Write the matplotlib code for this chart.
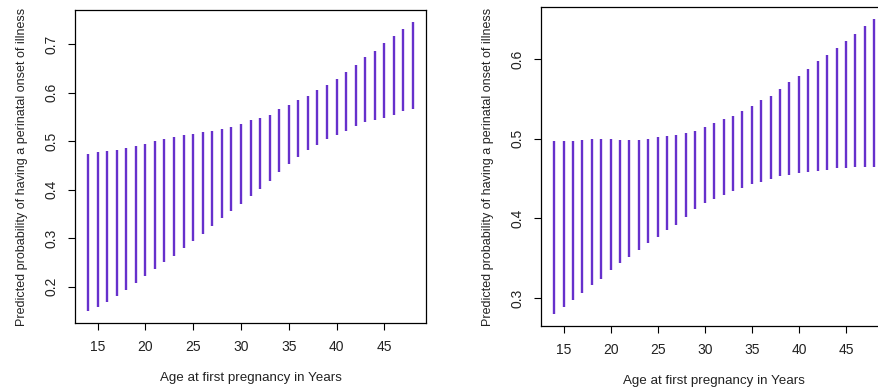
import numpy as np
import matplotlib
matplotlib.use("Agg")
import matplotlib.pyplot as plt

plt.rcParams['font.family'] = ['Liberation Sans', 'DejaVu Sans']

age = np.arange(14, 49)

left_lower = [0.149, 0.159, 0.169, 0.181, 0.193, 0.207, 0.222, 0.237, 0.251, 0.264,
              0.279, 0.295, 0.308, 0.326, 0.341, 0.356, 0.371, 0.387, 0.402, 0.419,
              0.436, 0.453, 0.468, 0.483, 0.493, 0.505, 0.514, 0.522, 0.531, 0.539,
              0.543, 0.549, 0.554, 0.562, 0.566]
left_upper = [0.473, 0.477, 0.480, 0.482, 0.486, 0.490, 0.494, 0.500, 0.504, 0.508,
              0.512, 0.515, 0.520, 0.522, 0.525, 0.530, 0.535, 0.543, 0.549, 0.555,
              0.566, 0.575, 0.585, 0.594, 0.605, 0.616, 0.629, 0.642, 0.657, 0.673,
              0.687, 0.703, 0.718, 0.732, 0.747]

right_lower = [0.280, 0.289, 0.298, 0.306, 0.316, 0.324, 0.335, 0.344, 0.352, 0.360,
               0.369, 0.377, 0.385, 0.392, 0.402, 0.412, 0.419, 0.425, 0.430, 0.434,
               0.438, 0.443, 0.446, 0.449, 0.453, 0.454, 0.457, 0.458, 0.459, 0.461,
               0.463, 0.463, 0.464, 0.464, 0.465]
right_upper = [0.497, 0.4975, 0.497, 0.499, 0.4996, 0.4996, 0.4996, 0.499, 0.498, 0.498,
               0.500, 0.502, 0.504, 0.505, 0.507, 0.510, 0.515, 0.520, 0.525, 0.529,
               0.535, 0.541, 0.549, 0.554, 0.562, 0.571, 0.579, 0.587, 0.597, 0.605,
               0.614, 0.623, 0.631, 0.641, 0.650]

xticks = [15, 20, 25, 30, 35, 40, 45]
left_yticks = [0.2, 0.3, 0.4, 0.5, 0.6, 0.7]
right_yticks = [0.3, 0.4, 0.5, 0.6]

W, H = 879, 387
fig = plt.figure(figsize=(W / 100, H / 100), dpi=100)

ax1 = fig.add_axes([75 / W, (H - 323) / H, (426 - 75) / W, (323 - 10) / H])
ax2 = fig.add_axes([541.3 / W, (H - 326) / H, (887 - 541.3) / W, (326 - 7.3) / H])


def r_extend(lo, hi):
    d = (hi - lo) * 0.04
    return lo - d, hi + d


for ax, lo, hi, yt in [(ax1, left_lower, left_upper, left_yticks),
                       (ax2, right_lower, right_upper, right_yticks)]:
    ax.vlines(age, lo, hi, colors="#6630cc", linewidth=1.7)
    ax.set_xlim(*r_extend(age.min(), age.max()))
    ax.set_ylim(*r_extend(min(lo), max(hi)))
    ax.set_xticks(xticks)
    ax.set_yticks(yt)
    ax.set_yticklabels([str(v) for v in yt], rotation=90, va="center")
    ax.tick_params(length=5, width=0.8, labelsize=10, colors="black", labelcolor="#222222")
    ax.tick_params(axis="x", pad=7)
    ax.tick_params(axis="y", pad=7)
    for s in ax.spines.values():
        s.set_linewidth(0.9)
    ax.set_xlabel("Age at first pregnancy in Years", fontsize=9.6, labelpad=13, color="#222222")
    ax.set_ylabel("Predicted probability of having a perinatal onset of illness",
                  fontsize=9.0, labelpad=12, color="#222222")

fig.savefig("out.png", dpi=100)
